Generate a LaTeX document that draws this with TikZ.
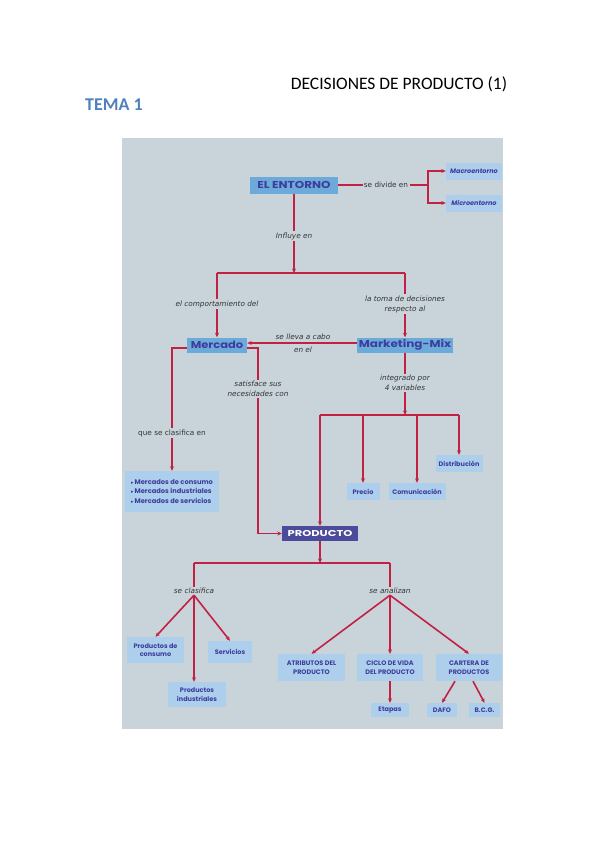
\documentclass[tikz,border=0pt]{standalone}
\usepackage{fontspec}
\setmainfont{Carlito}
\newfontfamily\boxfont{Poppins}
\newfontfamily\labfont{DejaVu Sans}
\usetikzlibrary{arrows.meta}
\definecolor{panel}{HTML}{C9D4DA}
\definecolor{lbox}{HTML}{ADCFEB}
\definecolor{mbox}{HTML}{6CAADA}
\definecolor{tblue}{HTML}{3D3D9E}
\definecolor{pbox}{HTML}{4C4A9A}
\definecolor{lred}{HTML}{C32143}
\definecolor{tema}{HTML}{4F81BD}
\begin{document}
\begin{tikzpicture}[x=1pt,y=-1pt,
  ln/.style={draw=lred, line width=1.6pt},
  arr/.style={ln, -{Stealth[length=4.5pt,width=4pt]}},
  bx/.style={fill=lbox, text=tblue, align=center, inner sep=0pt,
    font=\boxfont\bfseries\fontsize{6.5}{8.5}\selectfont},
  mainbx/.style={bx, fill=mbox, font=\boxfont\bfseries\fontsize{10}{11}\selectfont},
  lab/.style={text=black!80, align=center, inner sep=1.2pt,
    font=\labfont\fontsize{7.3}{10}\selectfont},
  ilab/.style={lab, font=\labfont\itshape\fontsize{7.3}{10}\selectfont}
]
\useasboundingbox (0,0) rectangle (599,848);
\fill[panel] (122,138) rectangle (503,729);
% headers
\node[font=\fontsize{17.5}{20}\selectfont] (title) at (399,84) {DECISIONES DE PRODUCTO (1)};
\node[font=\bfseries\fontsize{18}{21}\selectfont, text=tema] (tema) at (114,105) {TEMA 1};
% boxes
\node[mainbx, minimum width=88pt, minimum height=17pt] (entorno) at (294,185) {\scalebox{1.2}[1]{EL ENTORNO}};
\node[bx, minimum width=56pt, minimum height=17pt] (macro) at (474,171) {\itshape Macroentorno};
\node[bx, minimum width=56pt, minimum height=17pt] (micro) at (474,203) {\itshape Microentorno};
\node[mainbx, minimum width=60pt, minimum height=15pt] (mercado) at (217,345) {\scalebox{1.15}[1]{Mercado}};
\node[mainbx, minimum width=96pt, minimum height=15pt] (mmix) at (405,345) {\scalebox{1.2}[1]{Marketing-Mix}};
\node[bx, minimum width=94pt, minimum height=41pt, align=left, font=\boxfont\bfseries\fontsize{6.7}{9.7}\selectfont] (mercados) at (172,491.5)
  {{\labfont\fontsize{5}{9.7}\selectfont ▸}\,Mercados de consumo\\{\labfont\fontsize{5}{9.7}\selectfont ▸}\,Mercados industriales\\{\labfont\fontsize{5}{9.7}\selectfont ▸}\,Mercados de servicios};
\node[bx, minimum width=33pt, minimum height=17pt] (precio) at (363,491.5) {Precio};
\node[bx, minimum width=57pt, minimum height=17pt] (comunic) at (417,491.5) {Comunicación};
\node[bx, minimum width=47pt, minimum height=17pt] (distrib) at (459,463.5) {Distribución};
\node[bx, fill=pbox, text=white, minimum width=76pt, minimum height=15pt, font=\boxfont\bfseries\fontsize{8.5}{9}\selectfont] (producto) at (320,533.5) {\scalebox{1.35}[1]{PRODUCTO}};
\node[bx, minimum width=57pt, minimum height=26pt] (consumo) at (155.5,650) {Productos de\\consumo};
\node[bx, minimum width=44pt, minimum height=22pt] (servicios) at (230,652) {Servicios};
\node[bx, minimum width=58pt, minimum height=25pt] (industr) at (197,694.5) {Productos\\industriales};
\node[bx, minimum width=67pt, minimum height=27pt] (atrib) at (311.5,667.5) {ATRIBUTOS DEL\\PRODUCTO};
\node[bx, minimum width=66pt, minimum height=27pt] (ciclo) at (390,667.5) {CICLO DE VIDA\\DEL PRODUCTO};
\node[bx, minimum width=66pt, minimum height=27pt] (cartera) at (469,667.5) {CARTERA DE\\PRODUCTOS};
\node[bx, minimum width=38pt, minimum height=14pt] (etapas) at (390,710) {Etapas};
\node[bx, minimum width=30pt, minimum height=14pt] (dafo) at (442,710) {DAFO};
\node[bx, minimum width=31pt, minimum height=14pt] (bcg) at (484.5,710) {B.C.G.};
% labels
\node[lab] (sediv) at (386,185) {se divide en};
\node[ilab] (influye) at (294,236) {Influye en};
\node[ilab] (comp) at (217,304) {el comportamiento del};
\node[ilab] (toma) at (405,304) {la toma de decisiones\\respecto al};
\node[ilab, inner sep=0pt] (lleva) at (303,337) {se lleva a cabo};
\node[ilab, inner sep=0pt] (enel) at (303,350) {en el};
\node[lab] (queclas) at (172,433) {que se clasifica en};
\node[ilab] (satis) at (258,389) {satisface sus\\necesidades con};
\node[ilab] (integ) at (405,383) {integrado por\\4 variables};
\node[ilab] (seclas) at (194,591) {se clasifica};
\node[ilab] (seanal) at (390,591) {se analizan};
% junction coordinates
\coordinate (j1) at (428,185);
\coordinate (j2) at (294,273);
\coordinate (j2l) at (217,273);
\coordinate (j2r) at (405,273);
\coordinate (j3) at (405,415);
\coordinate (j3l) at (320,415);
\coordinate (j3r) at (459,415);
\coordinate (j4) at (320,563);
\coordinate (j4l) at (194,563);
\coordinate (j4r) at (390,563);
% connectors
\draw[ln] (entorno.east) -- (sediv.west);
\draw[ln] (sediv.east) -- (j1);
\draw[arr] (j1) |- (macro.west);
\draw[arr] (j1) |- (micro.west);
\draw[ln] (entorno.south) -- (influye.north);
\draw[arr] (influye.south) -- (j2);
\draw[ln] (j2l) -- (j2r);
\draw[ln] (j2l) -- (comp.north);
\draw[arr] (comp.south) -- (mercado.north);
\draw[ln] (j2r) -- (toma.north);
\draw[arr] (toma.south) -- (mmix.north);
\draw[arr] ([yshift=2pt]mmix.west) -- ([yshift=2pt]mercado.east);
\draw[ln] ([yshift=-3pt]mercado.west) -| (queclas.north);
\draw[arr] (queclas.south) -- (mercados.north);
\draw[ln] ([yshift=-3pt]mercado.east) -| (satis.north);
\draw[arr] (satis.south) |- (producto.west);
\draw[ln] (mmix.south) -- (integ.north);
\draw[arr] (integ.south) -- (j3);
\draw[ln] (j3l) -- (j3r);
\draw[arr] (j3l) -- (producto.north);
\draw[arr] (precio.north |- j3) -- (precio.north);
\draw[arr] (comunic.north |- j3) -- (comunic.north);
\draw[arr] (j3r) -- (distrib.north);
\draw[arr] (producto.south) -- (j4);
\draw[ln] (j4l) -- (j4r);
\draw[ln] (j4l) -- (seclas.north);
\draw[ln] (j4r) -- (seanal.north);
\draw[arr] (seclas.south) -- (consumo.north);
\draw[arr] (seclas.south) -- ([xshift=-3pt]industr.north);
\draw[arr] (seclas.south) -- (servicios.north);
\draw[arr] (seanal.south) -- (atrib.north);
\draw[arr] (seanal.south) -- (ciclo.north);
\draw[arr] (seanal.south) -- (cartera.north);
\draw[arr] (ciclo.south) -- (etapas.north);
\draw[arr] ([xshift=-14pt]cartera.south) -- (dafo.north);
\draw[arr] ([xshift=4pt]cartera.south) -- (bcg.north);
\end{tikzpicture}
\end{document}
